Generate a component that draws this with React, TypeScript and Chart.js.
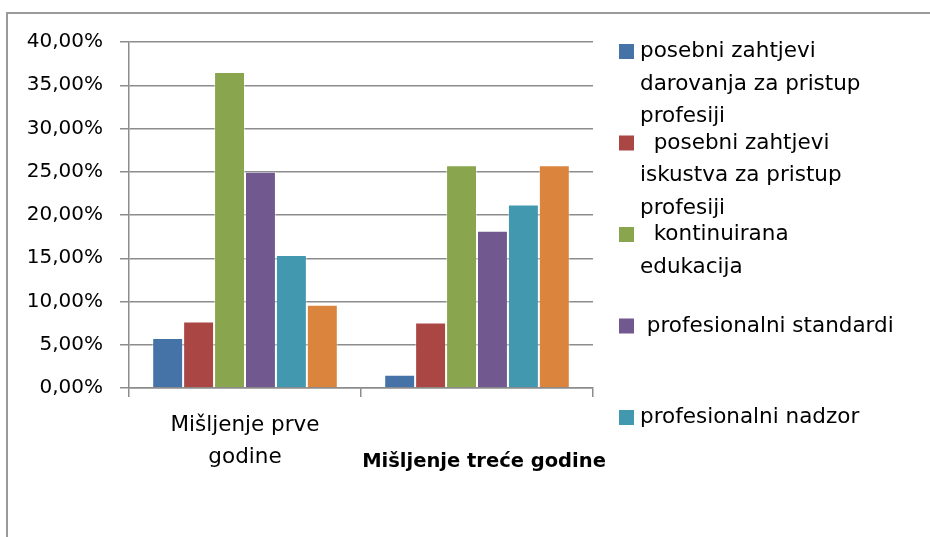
import React, { useEffect, useRef } from "react";
import { Chart, registerables } from "chart.js";

Chart.register(...registerables);

// ---- data ----
const categories = ["Mišljenje prve godine", "Mišljenje treće godine"];
const categoryLabelLines = [["Mišljenje prve", "godine"], ["Mišljenje treće godine"]];
const categoryLabelBold = [false, true];

const seriesNames = [
  "posebni zahtjevi darovanja za pristup profesiji",
  "posebni zahtjevi iskustva za pristup profesiji",
  "kontinuirana edukacija",
  "profesionalni standardi",
  "profesionalni nadzor",
  "ostalo",
];
const legendLines = [
  ["posebni zahtjevi", "darovanja za pristup", "profesiji"],
  ["  posebni zahtjevi", "iskustva za pristup", "profesiji"],
  ["  kontinuirana", "edukacija"],
  [" profesionalni standardi"],
  ["profesionalni nadzor"],
  ["ostalo"],
];
const legendVisibleCount = 5;

const zahtjeviDarovanja = [5.77, 1.52];
const zahtjeviIskustva = [7.69, 7.58];
const kontinuiranaEdukacija = [36.54, 25.76];
const profesionalniStandardi = [25.0, 18.18];
const profesionalniNadzor = [15.38, 21.21];
const ostalo = [9.62, 25.76];
const seriesValues = [
  zahtjeviDarovanja,
  zahtjeviIskustva,
  kontinuiranaEdukacija,
  profesionalniStandardi,
  profesionalniNadzor,
  ostalo,
];
const seriesColors = ["#4572A7", "#AA4643", "#89A54E", "#71588F", "#4198AF", "#DB843D"];

const yMin = 0;
const yMax = 40;
const yStep = 5;

const FONT = "'DejaVu Sans', 'Open Sans', sans-serif";
const AXIS_FONT_SIZE = 20;
const LABEL_FONT_SIZE = 21.5;
const BOLD_FONT_SIZE = 19.5;

const legendPlugin = {
  id: "excelLegend",
  afterDraw(chart: any) {
    const ctx = chart.ctx;
    ctx.save();
    ctx.font = `${LABEL_FONT_SIZE}px ${FONT}`;
    ctx.textBaseline = "middle";
    ctx.textAlign = "left";
    const n = Math.min(legendVisibleCount, chart.data.datasets.length);
    for (let i = 0; i < n; i++) {
      const ds = chart.data.datasets[i];
      const cy = 51.5 + i * 91.5;
      ctx.fillStyle = ds.backgroundColor;
      ctx.fillRect(619, cy - 7.5, 15, 15);
      ctx.fillStyle = "#000";
      legendLines[i].forEach((line, j) => {
        ctx.fillText(line, 640, cy + j * 32.5);
      });
    }
    ctx.restore();
  },
};

const categoryLabelPlugin = {
  id: "categoryLabels",
  afterDraw(chart: any) {
    const ctx = chart.ctx;
    const xs = chart.scales.x;
    ctx.save();
    ctx.textBaseline = "middle";
    ctx.textAlign = "center";
    ctx.fillStyle = "#000";
    categoryLabelLines.forEach((lines, i) => {
      const bold = categoryLabelBold[i];
      ctx.font = bold ? `bold ${BOLD_FONT_SIZE}px ${FONT}` : `${LABEL_FONT_SIZE}px ${FONT}`;
      const x = xs.getPixelForValue(i) + (bold ? 7 : 0);
      const y0 = bold ? 462 : 425;
      lines.forEach((line, j) => ctx.fillText(line, x, y0 + j * 32));
    });
    ctx.restore();
  },
};

export default function App() {
  const ref = useRef<HTMLCanvasElement>(null);
  useEffect(() => {
    if (!ref.current) return;
    const chart = new Chart(ref.current, {
      type: "bar",
      data: {
        labels: categories,
        datasets: seriesNames.map((name, i) => ({
          label: name,
          data: seriesValues[i],
          backgroundColor: seriesColors[i],
          borderColor: "rgba(255,255,255,0.45)",
          borderWidth: 1,
          barPercentage: 1,
          categoryPercentage: 0.8,
        })),
      },
      options: {
        responsive: false,
        animation: false,
        devicePixelRatio: 1,
        layout: { padding: { left: 0, top: 42, right: 337, bottom: 0 } },
        plugins: { legend: { display: false }, tooltip: { enabled: false } },
        scales: {
          x: {
            afterFit: (s: any) => {
              s.height = 149;
            },
            ticks: { display: false },
            grid: {
              drawOnChartArea: false,
              drawTicks: true,
              tickLength: 9,
              offset: true,
              color: "#8c8c8c",
              lineWidth: 1.5,
            },
            border: { display: true, color: "#8c8c8c", width: 1.5 },
          },
          y: {
            min: yMin,
            max: yMax,
            afterFit: (s: any) => {
              s.width = 129;
            },
            ticks: {
              stepSize: yStep,
              padding: 17,
              color: "#000",
              font: { family: FONT, size: AXIS_FONT_SIZE },
              callback: (v: any) => Number(v).toFixed(2).replace(".", ",") + "%",
            },
            grid: { color: "#8c8c8c", lineWidth: 1.5, tickLength: 9 },
            border: { display: true, color: "#8c8c8c", width: 1.5 },
          },
        },
      },
      plugins: [legendPlugin, categoryLabelPlugin],
    });
    return () => chart.destroy();
  }, []);

  return (
    <div
      style={{
        position: "fixed",
        left: 0,
        top: 0,
        width: 930,
        height: 537,
        overflow: "hidden",
        background: "#fff",
      }}
    >
      <canvas ref={ref} width={930} height={537} style={{ position: "absolute", left: 0, top: 0 }} />
      <div
        style={{
          position: "absolute",
          left: 6,
          top: 12,
          right: 0,
          bottom: 0,
          borderLeft: "2px solid #9a9a9a",
          borderTop: "2px solid #9a9a9a",
          pointerEvents: "none",
        }}
      />
    </div>
  );
}
